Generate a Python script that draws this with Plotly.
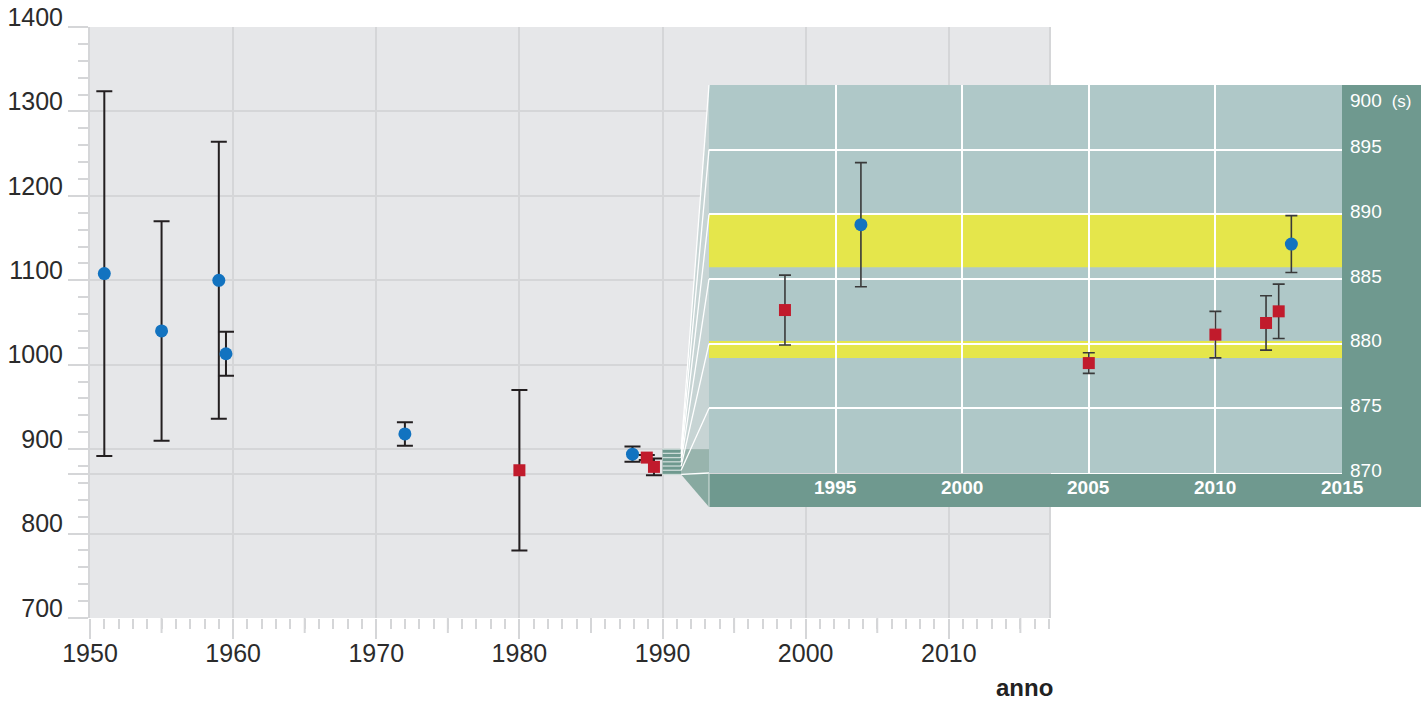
import plotly.graph_objects as go

# ---------------- data ----------------
main_years = [1951, 1955, 1959, 1959.5, 1972, 1980, 1987.9, 1988.9, 1989.4]
main_tau = [1108, 1040, 1100, 1013, 918, 875, 894, 890, 879]
main_err = [216, 130, 164, 26, 14, 95, 9, 3, 10]
main_method = ["fascio", "fascio", "fascio", "fascio", "fascio", "bottiglia", "fascio", "bottiglia", "bottiglia"]

inset_years = [1993, 1996, 2005, 2010, 2012, 2012.5, 2013]
inset_tau = [882.6, 889.2, 878.5, 880.7, 881.6, 882.5, 887.7]
inset_err = [2.7, 4.8, 0.8, 1.8, 2.1, 2.1, 2.2]
inset_method = ["bottiglia", "fascio", "bottiglia", "bottiglia", "bottiglia", "bottiglia", "fascio"]

band_fascio = [885.9, 890.1]
band_bottiglia = [878.9, 880.2]

main_xticks = [1950, 1960, 1970, 1980, 1990, 2000, 2010]
main_yticks = [700, 800, 870, 900, 1000, 1100, 1200, 1300, 1400]
main_yticktext = ["700", "800", "", "900", "1000", "1100", "1200", "1300", "1400"]
main_xrange = [1950, 2017]
main_yrange = [700, 1400]

inset_xticks = [1990, 1995, 2000, 2005, 2010, 2015]
inset_xlabels = ["1995", "2000", "2005", "2010", "2015"]
inset_yticks = [870, 875, 880, 885, 890, 895, 900]
inset_ylabels = ["870", "875", "880", "885", "890", "895"]
inset_xrange = [1990, 2015]
inset_yrange = [870, 900]

# ---------------- geometry ----------------
W, H = 1427, 703
L, R, T, B = 90, 6, 27, 85
PW, PH = W - L - R, H - T - B

def pxx(px):
    return (px - L) / PW

def pxy(py):
    return (H - B - py) / PH

main_dx = [0.0, pxx(1049)]
main_dy = [0.0, 1.0]
inset_dx = [pxx(709), pxx(1342)]
inset_dy = [pxy(473), pxy(85)]

def lin(v, r, d):
    return d[0] + (v - r[0]) / (r[1] - r[0]) * (d[1] - d[0])

def mx(v): return lin(v, main_xrange, main_dx)
def my(v): return lin(v, main_yrange, main_dy)
def ix(v): return lin(v, inset_xrange, inset_dx)
def iy(v): return lin(v, inset_yrange, inset_dy)

BLUE = "#1273c0"
RED = "#c11b2c"
GRID = "#d5d6d8"
TEAL = "#6f998f"
INSET_BG = "#afc8c8"
YELLOW = "#e5e64b"
FONT = "Liberation Sans, Arial, sans-serif"
TXT = "#2b2b2b"

fig = go.Figure()

def add_series(years, tau, err, method, key, color, symbol, size, xa, ya, ecol, eth, ew):
    xs = [y for y, m in zip(years, method) if m == key]
    ys = [t for t, m in zip(tau, method) if m == key]
    es = [e for e, m in zip(err, method) if m == key]
    fig.add_trace(go.Scatter(
        x=xs, y=ys, mode="markers", xaxis=xa, yaxis=ya,
        marker=dict(color=color, symbol=symbol, size=size, line=dict(width=0)),
        error_y=dict(type="data", array=es, visible=True, color=ecol, thickness=eth, width=ew),
        hoverinfo="skip", showlegend=False))

add_series(main_years, main_tau, main_err, main_method, "fascio", BLUE, "circle", 13, "x", "y", "#231f20", 2, 8)
add_series(main_years, main_tau, main_err, main_method, "bottiglia", RED, "square", 12, "x", "y", "#231f20", 2, 8)
add_series(inset_years, inset_tau, inset_err, inset_method, "fascio", BLUE, "circle", 13, "x2", "y2", "#3a3a3a", 1.6, 6)
add_series(inset_years, inset_tau, inset_err, inset_method, "bottiglia", RED, "square", 12, "x2", "y2", "#3a3a3a", 1.6, 6)

shapes = []
# inset background and bands (inside inset subplot layer)
shapes.append(dict(type="rect", xref="x2", yref="y2", x0=inset_xrange[0], x1=inset_xrange[1],
                   y0=inset_yrange[0], y1=inset_yrange[1], fillcolor=INSET_BG, line=dict(width=0), layer="below"))
for band in (band_fascio, band_bottiglia):
    shapes.append(dict(type="rect", xref="x2", yref="y2", x0=inset_xrange[0], x1=inset_xrange[1],
                       y0=band[0], y1=band[1], fillcolor=YELLOW, line=dict(width=0), layer="below"))

# 5-year medium ticks on main x axis
for yr in range(1955, 2017, 10):
    shapes.append(dict(type="line", xref="x", yref="paper", x0=yr, x1=yr, y0=0, y1=-15 / PH,
                       line=dict(color=GRID, width=2), layer="below"))

# dark teal frame bars around inset
bar_bottom = pxy(507)
shapes.append(dict(type="rect", xref="paper", yref="paper", x0=inset_dx[0], x1=1.0,
                   y0=bar_bottom, y1=pxy(474), fillcolor=TEAL, line=dict(width=0), layer="above"))
shapes.append(dict(type="rect", xref="paper", yref="paper", x0=inset_dx[1], x1=1.0,
                   y0=bar_bottom, y1=inset_dy[1], fillcolor=TEAL, line=dict(width=0), layer="above"))

# magnifier: small box on main chart
sx0 = mx(inset_xrange[0])
sx1 = mx(inset_xrange[0] + 1.3)
sy0, sy1 = my(inset_yrange[0]), my(inset_yrange[1])
ex = inset_dx[0]
shapes.append(dict(type="path", xref="paper", yref="paper",
                   path=f"M {sx1},{sy1} L {ex},{iy(inset_yrange[1])} L {ex},{sy1} Z",
                   fillcolor="#c7d4d4", line=dict(width=0), layer="above"))
shapes.append(dict(type="rect", xref="paper", yref="paper", x0=sx1, x1=ex, y0=sy0, y1=sy1,
                   fillcolor="#98b4ad", line=dict(width=0), layer="above"))
shapes.append(dict(type="path", xref="paper", yref="paper",
                   path=f"M {sx1},{sy0} L {ex},{iy(inset_yrange[0])} L {ex},{bar_bottom} Z",
                   fillcolor="#87a9a0", line=dict(width=0), layer="above"))
shapes.append(dict(type="rect", xref="paper", yref="paper", x0=sx0, x1=sx1, y0=sy0, y1=sy1,
                   fillcolor=TEAL, line=dict(width=0), layer="above"))
for v in inset_yticks:
    shapes.append(dict(type="line", xref="paper", yref="paper", x0=sx0, x1=sx1, y0=my(v), y1=my(v),
                       line=dict(color="#cddbd8", width=1.3), layer="above"))
    shapes.append(dict(type="line", xref="paper", yref="paper", x0=sx1, x1=ex, y0=my(v), y1=iy(v),
                       line=dict(color="white", width=1.3), layer="above"))
shapes.append(dict(type="line", xref="paper", yref="paper", x0=ex, x1=ex, y0=bar_bottom, y1=iy(inset_yrange[0]),
                   line=dict(color="#d8e3e0", width=1), layer="above"))

annotations = []
# inset y labels
for v, t in zip(inset_yticks[:-1], inset_ylabels):
    annotations.append(dict(x=inset_dx[1] + 6 / PW, xref="paper", y=v, yref="y2", text=t,
                            showarrow=False, xanchor="left", yanchor="middle", yshift=3,
                            font=dict(family=FONT, size=19, color="white")))
annotations.append(dict(x=inset_dx[1] + 6 / PW, xref="paper", y=inset_yticks[-1], yref="y2",
                        text="900 <span style='font-size:17px'> (s)</span>",
                        showarrow=False, xanchor="left", yanchor="middle", yshift=-15,
                        font=dict(family=FONT, size=19, color="white")))
# inset x labels
for v, t in zip(inset_xticks[1:], inset_xlabels):
    annotations.append(dict(x=v, xref="x2", y=iy(inset_yrange[0]) - 14 / PH, yref="paper", text=t,
                            showarrow=False, xanchor="center", yanchor="middle",
                            font=dict(family=FONT, size=19, color="white", weight="bold")))
# axis title
annotations.append(dict(x=pxx(1054), xref="paper", y=pxy(702), yref="paper", text="<b>anno</b>",
                        showarrow=False, xanchor="right", yanchor="bottom", borderpad=0,
                        font=dict(family=FONT, size=24, color="#222222")))

fig.update_layout(
    width=W, height=H, margin=dict(l=L, r=R, t=T, b=B, autoexpand=False),
    paper_bgcolor="white", plot_bgcolor="#e6e7e9",
    font=dict(family=FONT, size=25, color=TXT),
    showlegend=False, shapes=shapes, annotations=annotations,
    xaxis=dict(domain=main_dx, range=main_xrange, anchor="y", tickmode="array", tickvals=main_xticks,
               showgrid=True, gridcolor=GRID, gridwidth=2, zeroline=False, showline=False,
               automargin=False,
               ticks="outside", ticklen=20, tickwidth=2, tickcolor=GRID, ticklabelstandoff=-7,
               tickfont=dict(family=FONT, size=25, color=TXT),
               minor=dict(tickmode="linear", tick0=1950, dtick=1, ticks="outside", ticklen=10,
                          tickwidth=2, tickcolor=GRID, showgrid=False)),
    yaxis=dict(domain=main_dy, range=main_yrange, anchor="x", tickmode="array", tickvals=main_yticks,
               ticktext=main_yticktext, showgrid=True, gridcolor=GRID, gridwidth=2, zeroline=False,
               showline=True, mirror=True, linecolor=GRID, linewidth=2, automargin=False,
               ticks="outside", ticklen=20, tickwidth=2, tickcolor=GRID, ticklabelshift=-10,
               ticklabelstandoff=0,
               tickfont=dict(family=FONT, size=25, color=TXT),
               minor=dict(tickmode="linear", tick0=700, dtick=20, ticks="outside", ticklen=10,
                          tickwidth=2, tickcolor=GRID, showgrid=False)),
    xaxis2=dict(domain=inset_dx, range=inset_xrange, anchor="y2", tickmode="array", tickvals=inset_xticks,
                showgrid=True, gridcolor="white", gridwidth=1.5, zeroline=False, showline=False,
                showticklabels=False, ticks="", automargin=False),
    yaxis2=dict(domain=inset_dy, range=inset_yrange, anchor="x2", tickmode="array", tickvals=inset_yticks,
                showgrid=True, gridcolor="white", gridwidth=1.5, zeroline=False, showline=False,
                showticklabels=False, ticks="", automargin=False),
)

fig.write_html("out.html", config={"displayModeBar": False},
               post_script="document.body.style.margin='0';")
